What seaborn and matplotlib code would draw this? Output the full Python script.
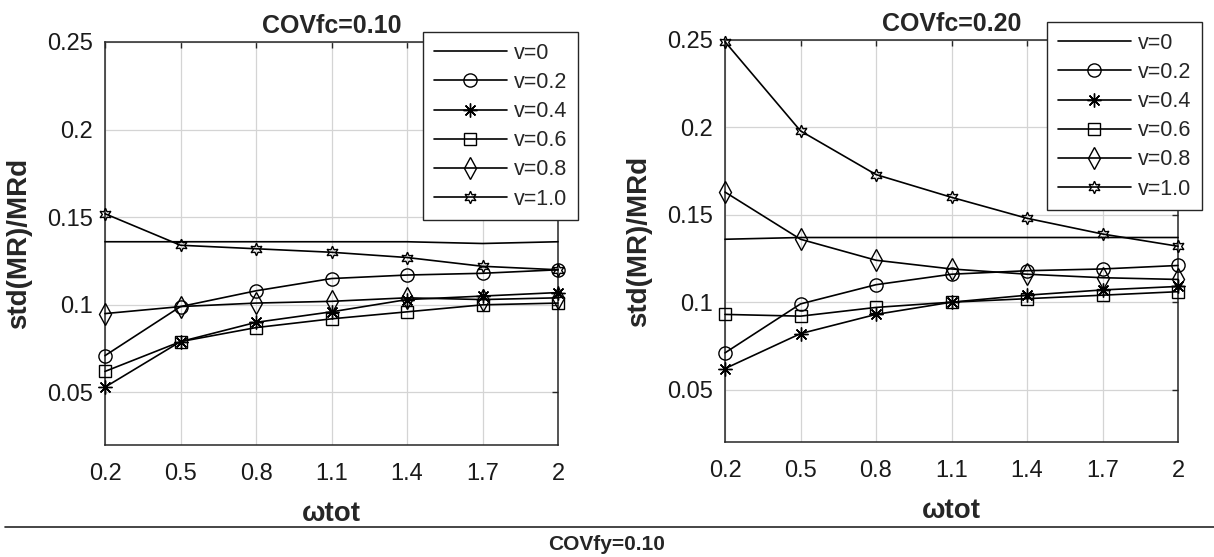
import numpy as np
import pandas as pd
import matplotlib
matplotlib.use("Agg")
import matplotlib.pyplot as plt
from matplotlib.lines import Line2D
import seaborn as sns

# x values and tick labels
wtot = [0.2, 0.5, 0.8, 1.1, 1.4, 1.7, 2.0]
xtick_labels = ["0.2", "0.5", "0.8", "1.1", "1.4", "1.7", "2"]
ytick_vals = [0.05, 0.1, 0.15, 0.2, 0.25]
ytick_labels = ["0.05", "0.1", "0.15", "0.2", "0.25"]
series_labels = ["v=0", "v=0.2", "v=0.4", "v=0.6", "v=0.8", "v=1.0"]
panel_titles = ["COVfc=0.10", "COVfc=0.20"]

# COVfc = 0.10
left_v00 = [0.136, 0.136, 0.136, 0.136, 0.136, 0.135, 0.136]
left_v02 = [0.071, 0.099, 0.108, 0.115, 0.117, 0.118, 0.120]
left_v04 = [0.053, 0.079, 0.090, 0.096, 0.103, 0.105, 0.107]
left_v06 = [0.062, 0.079, 0.087, 0.092, 0.096, 0.100, 0.101]
left_v08 = [0.095, 0.099, 0.101, 0.102, 0.104, 0.103, 0.104]
left_v10 = [0.152, 0.134, 0.132, 0.130, 0.127, 0.122, 0.120]

# COVfc = 0.20
right_v00 = [0.136, 0.137, 0.137, 0.137, 0.137, 0.137, 0.137]
right_v02 = [0.071, 0.099, 0.110, 0.116, 0.118, 0.119, 0.121]
right_v04 = [0.062, 0.082, 0.093, 0.100, 0.104, 0.107, 0.109]
right_v06 = [0.093, 0.092, 0.097, 0.100, 0.102, 0.104, 0.106]
right_v08 = [0.163, 0.136, 0.124, 0.119, 0.116, 0.114, 0.113]
right_v10 = [0.249, 0.198, 0.173, 0.160, 0.148, 0.139, 0.132]

left_series = [left_v00, left_v02, left_v04, left_v06, left_v08, left_v10]
right_series = [right_v00, right_v02, right_v04, right_v06, right_v08, right_v10]

# marker, size for each v
marker_styles = [("", 0), ("o", 9.5), ((8, 2, 0), 10), ("s", 8), ("d", 11), ((6, 1, 0), 9)]

sns.set_style("white")
plt.rcParams["font.family"] = ["Liberation Sans", "DejaVu Sans"]

dark = "#262626"
fig = plt.figure(figsize=(12.14, 5.57), dpi=100)
ax_left = fig.add_axes([105 / 1214, 1 - 445 / 557, 453 / 1214, 403 / 557])
ax_right = fig.add_axes([725 / 1214, 1 - 442 / 557, 453 / 1214, 402 / 557])

legend_anchor = [(423 / 1214, 1 - 32 / 557), (1047 / 1214, 1 - 22 / 557)]

for i, (ax, series) in enumerate([(ax_left, left_series), (ax_right, right_series)]):
    for vals, lab, (mk, ms) in zip(series, series_labels, marker_styles):
        sns.lineplot(x=wtot, y=vals, ax=ax, color="black", linewidth=1.2,
                     marker=mk if mk != "" else None, markersize=ms,
                     markerfacecolor="none", markeredgecolor="black",
                     markeredgewidth=1.0, errorbar=None, label=lab,
                     clip_on=False, zorder=3)
    ax.set_xlim(0.2, 2.0)
    ax.set_ylim(0.02, 0.25)
    ax.set_xticks(wtot)
    ax.set_xticklabels(xtick_labels)
    ax.set_yticks(ytick_vals)
    ax.set_yticklabels(ytick_labels)
    ax.grid(True, color="#d4d4d4", linewidth=0.9)
    ax.set_axisbelow(True)
    for sp in ax.spines.values():
        sp.set_color(dark)
        sp.set_linewidth(1.1)
    ax.tick_params(direction="in", top=True, right=True, length=4, width=1,
                   color=dark, labelsize=17, labelcolor="#1a1a1a")
    ax.tick_params(axis="x", pad=13)
    ax.tick_params(axis="y", pad=8.5)
    ax.set_title(panel_titles[i], fontsize=18, fontweight="bold", pad=6.5)
    ax.set_xlabel("ωtot", fontsize=20, fontweight="bold")
    ax.set_ylabel("std(MR)/MRd", fontsize=20, fontweight="bold")
    ax.xaxis.set_label_coords(0.5, -0.14)
    ax.yaxis.set_label_coords(-0.16, 0.5)
    leg = ax.legend(loc="upper left", bbox_to_anchor=legend_anchor[i],
                    bbox_transform=fig.transFigure, fontsize=15.5,
                    frameon=True, fancybox=False, framealpha=1,
                    edgecolor=dark, handlelength=3.4, handletextpad=0.33,
                    labelspacing=0.38, borderpad=0.5, borderaxespad=0)
    leg.get_frame().set_linewidth(1.0)
    leg.set_zorder(10)

fig.add_artist(Line2D([5 / 1214, 1.0], [1 - 527 / 557] * 2, color=dark, linewidth=1.2))
fig.text(607 / 1214, 1 - 545 / 557, "COVfy=0.10", ha="center", va="center",
         fontsize=15, fontweight="bold")

fig.savefig("out.png", dpi=100)
